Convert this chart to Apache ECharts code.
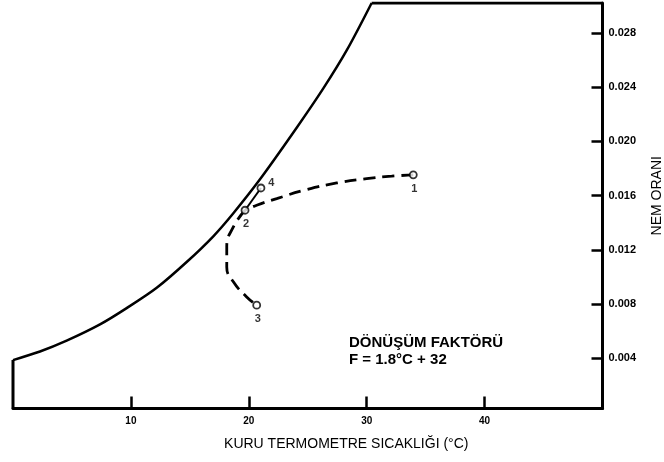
<!DOCTYPE html>
<html><head><meta charset="utf-8">
<script src="https://cdn.jsdelivr.net/npm/echarts@6/dist/echarts.min.js"></script>
<style>html,body{margin:0;padding:0;background:#fff}#c{width:664px;height:462px}</style>
</head><body><div id="c"></div>
<script>
// Axis ranges and ticks
var xMin = 0, xMax = 50;
var yMin = 0.0003, yMax = 0.0302;
var xTicks = [10, 20, 30, 40];
var yTicks = [0.004, 0.008, 0.012, 0.016, 0.020, 0.024, 0.028];

// Saturation curve (dry-bulb °C, humidity ratio)
var satT = [0, 2.29, 4.55, 7.38, 9.64, 12.19, 14.73, 16.99, 18.69, 20.95, 24.06, 26.32, 28.3, 30.42];
var satW = [0.00387, 0.0045, 0.0053, 0.0065, 0.0077, 0.0092, 0.0111, 0.0130, 0.0147, 0.0172, 0.0210, 0.0239, 0.0267, 0.0302];

// Frame edges: left edge (0 °C) and top edge
var leftEdgeT = [0, 0];
var leftEdgeW = [yMin, 0.00387];
var topEdgeT = [30.42, 50];
var topEdgeW = [0.0302, 0.0302];

// Process 1 -> 2 (dashed)
var p12T = [33.95, 32.12, 30.0, 27.46, 24.91, 22.37, 20.67, 19.68];
var p12W = [0.01753, 0.01743, 0.01725, 0.01693, 0.01644, 0.01578, 0.01529, 0.01492];
// Process 2 -> 3 (dashed)
var p23T = [19.68, 18.69, 18.13, 18.13, 18.69, 19.82, 20.67];
var p23W = [0.01492, 0.01369, 0.01222, 0.01074, 0.00964, 0.00853, 0.00792];
// Process 2 -> 4 (solid)
var p24T = [19.68, 21.03];
var p24W = [0.01492, 0.01656];

// State points
var ptNames = ['1', '2', '3', '4'];
var ptT = [33.95, 19.68, 20.67, 21.03];
var ptW = [0.01753, 0.01492, 0.00792, 0.01656];

function zip(a, b) { return a.map(function (v, i) { return [v, b[i]]; }); }

var chart = echarts.init(document.getElementById('c'), null, {renderer: 'canvas'});
var F = '"Liberation Sans", Arial, sans-serif';

var pointData = ptNames.map(function (n, i) {
  return {
    value: [ptT[i], ptW[i]],
    label: { show: true, formatter: n, position: n === '4' ? 'right' : 'bottom',
             offset: n === '4' ? [-2, -5] : [1, -1],
             color: '#000', fontFamily: F, fontWeight: 'bold', fontSize: 11 }
  };
});

chart.setOption({
  animation: false,
  backgroundColor: '#fff',
  grid: { left: 13, right: 61.5, top: 3, bottom: 53.5, containLabel: false, outerBoundsMode: 'none' },
  xAxis: {
    type: 'value', min: xMin, max: xMax,
    name: 'KURU TERMOMETRE SICAKLIĞI (°C)', nameLocation: 'middle', nameGap: 29,
    nameTextStyle: { color: '#000', fontFamily: F, fontSize: 14, padding: [0, 0, 0, 77] },
    axisLine: { show: true, onZero: false, lineStyle: { color: '#000', width: 3 } },
    axisTick: { show: true, inside: true, length: 12, customValues: xTicks, lineStyle: { color: '#000', width: 2.5 } },
    axisLabel: { customValues: xTicks, color: '#000', fontFamily: F, fontWeight: 'bold', fontSize: 10, margin: 8 },
    splitLine: { show: false }
  },
  yAxis: {
    type: 'value', position: 'right', min: yMin, max: yMax,
    name: 'NEM ORANI', nameLocation: 'middle', nameGap: 48, nameRotate: 90,
    nameTextStyle: { color: '#000', fontFamily: F, fontSize: 14, padding: [0, 0, 0, 20] },
    axisLine: { show: true, onZero: false, lineStyle: { color: '#000', width: 3 } },
    axisTick: { show: true, inside: true, length: 11, customValues: yTicks, lineStyle: { color: '#000', width: 2.5 } },
    axisLabel: { customValues: yTicks, color: '#000', fontFamily: F, fontWeight: 'bold', fontSize: 11, margin: 6,
                 formatter: function (v) { return v.toFixed(3); } },
    splitLine: { show: false }
  },
  graphic: [
    { type: 'text', left: 349, top: 335, style: { text: 'DÖNÜŞÜM FAKTÖRÜ', fill: '#000', font: 'bold 15px ' + F } },
    { type: 'text', left: 349, top: 352, style: { text: 'F = 1.8°C + 32', fill: '#000', font: 'bold 15px ' + F } }
  ],
  series: [
    { type: 'line', data: zip(satT, satW), smooth: 0.3, symbol: 'none', lineStyle: { color: '#000', width: 2.5 } },
    { type: 'line', data: zip(leftEdgeT, leftEdgeW), symbol: 'none', lineStyle: { color: '#000', width: 3 } },
    { type: 'line', data: zip(topEdgeT, topEdgeW), symbol: 'none', lineStyle: { color: '#000', width: 3 } },
    { type: 'line', data: zip(p12T, p12W), smooth: true, symbol: 'none', lineStyle: { color: '#000', width: 2.8, type: [12, 7] } },
    { type: 'line', data: zip(p23T, p23W), smooth: true, symbol: 'none', lineStyle: { color: '#000', width: 2.8, type: [12, 7] } },
    { type: 'line', data: zip(p24T, p24W), symbol: 'none', lineStyle: { color: '#000', width: 2 } },
    { type: 'scatter', data: pointData, symbol: 'circle', symbolSize: 7,
      itemStyle: { color: '#fff', borderColor: '#000', borderWidth: 1.8 }, z: 5 }
  ]
});
</script></body></html>
